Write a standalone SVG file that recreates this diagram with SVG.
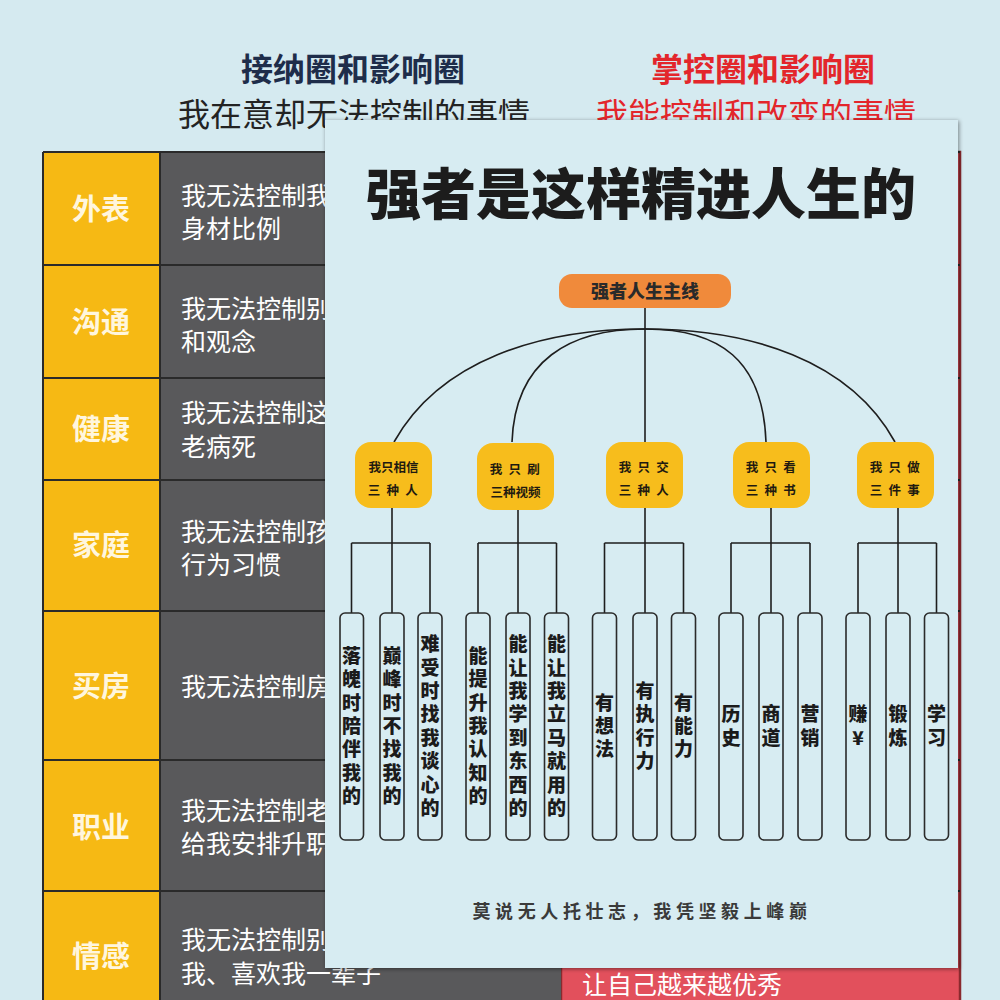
<svg xmlns="http://www.w3.org/2000/svg" width="1000" height="1000" viewBox="0 0 1000 1000">
<defs>
<style>
.cjk{font-family:"Noto Sans CJK SC","Noto Sans",sans-serif}
.hd{font-size:32px;font-weight:bold;text-anchor:middle}
.sub{font-size:32px}
.lab{font-size:29px;font-weight:bold;fill:#fff6de;text-anchor:middle}
.cell{font-size:25px;fill:#ffffff}
.rowline{stroke:#2a2a2a;stroke-width:2}
.con{fill:none;stroke:#1e1e1e;stroke-width:1.6}
.child rect{fill:#f7bd1c}
.ct{font-size:12.5px;font-weight:bold;fill:#1f1a10;text-anchor:middle}
.leaf rect{fill:#d7ecf2;stroke:#2b2b2b;stroke-width:1.6}
.lt{font-size:19px;font-weight:900;fill:#1b1b1b;writing-mode:vertical-rl;text-orientation:upright;text-anchor:middle;letter-spacing:4.4px}
</style>
<filter id="sh" x="-5%" y="-5%" width="110%" height="110%">
<feDropShadow dx="1" dy="1" stdDeviation="2" flood-color="#000" flood-opacity="0.45"/>
</filter>
</defs>
<rect width="1000" height="1000" fill="#d5eaf0"/>

<g id="headers" class="cjk">
<text class="hd" x="353" y="81" fill="#1e2d4a">接纳圈和影响圈</text>
<text class="hd" x="763" y="81" fill="#e3262b">掌控圈和影响圈</text>
<text class="sub" x="178" y="126" fill="#232323">我在意却无法控制的事情</text>
<text class="sub" x="596" y="126" fill="#e3262b">我能控制和改变的事情</text>
</g>

<g id="table" class="cjk">
<rect x="561" y="152" width="399" height="860" fill="#e2505c" stroke="#8a2a2e" stroke-width="2.5"/>
<rect x="160" y="152" width="401" height="860" fill="#59595b"/>
<rect x="43" y="152" width="117" height="860" fill="#f6b914"/>
<line class="rowline" x1="43" y1="152" x2="960" y2="152"/>
<line class="rowline" x1="43" y1="265" x2="960" y2="265"/>
<line class="rowline" x1="43" y1="378" x2="960" y2="378"/>
<line class="rowline" x1="43" y1="480" x2="960" y2="480"/>
<line class="rowline" x1="43" y1="611" x2="960" y2="611"/>
<line class="rowline" x1="43" y1="760" x2="960" y2="760"/>
<line class="rowline" x1="43" y1="891" x2="960" y2="891"/>
<line class="rowline" x1="43" y1="152" x2="43" y2="1000"/>
<line class="rowline" x1="160" y1="152" x2="160" y2="1000"/>
<text class="lab" x="101" y="220">外表</text>
<text class="lab" x="101" y="333">沟通</text>
<text class="lab" x="101" y="440">健康</text>
<text class="lab" x="101" y="556">家庭</text>
<text class="lab" x="101" y="697">买房</text>
<text class="lab" x="101" y="838">职业</text>
<text class="lab" x="101" y="967">情感</text>
<text class="cell" x="181" y="205">我无法控制我</text>
<text class="cell" x="181" y="238">身材比例</text>
<text class="cell" x="181" y="318">我无法控制别</text>
<text class="cell" x="181" y="351">和观念</text>
<text class="cell" x="181" y="422">我无法控制这</text>
<text class="cell" x="181" y="456">老病死</text>
<text class="cell" x="181" y="541">我无法控制孩</text>
<text class="cell" x="181" y="574">行为习惯</text>
<text class="cell" x="181" y="696">我无法控制房</text>
<text class="cell" x="181" y="820">我无法控制老</text>
<text class="cell" x="181" y="853">给我安排升职</text>
<text class="cell" x="181" y="949">我无法控制别</text>
<text class="cell" x="181" y="983">我、喜欢我一辈子</text>
<text class="cell" x="582" y="994">让自己越来越优秀</text>
</g>

<rect id="card" x="325" y="120" width="633" height="848" fill="#d7ecf2" filter="url(#sh)"/>

<g id="title" class="cjk">
<text x="641" y="214" font-size="55" font-weight="900" fill="#1c1c1c" text-anchor="middle">强者是这样精进人生的</text>
</g>

<g id="connectors">
<path class="con" d="M645,308 V442"/>
<path class="con" d="M645,329 C540,329 440,360 394,442"/>
<path class="con" d="M645,329 C570,329 515,360 512,442"/>
<path class="con" d="M645,329 C720,329 763,360 766,442"/>
<path class="con" d="M645,329 C750,329 850,360 895,442"/>
<path class="con" d="M392,508 V543 M351.5,543 H430 M351.5,543 V613 M392,543 V613 M430,543 V613"/>
<path class="con" d="M518,510 V543 M478,543 H556.5 M478,543 V613 M518,543 V613 M556.5,543 V613"/>
<path class="con" d="M645,508 V543 M604.5,543 H683.5 M604.5,543 V613 M645,543 V613 M683.5,543 V613"/>
<path class="con" d="M771,508 V543 M731,543 H810 M731,543 V613 M771,543 V613 M810,543 V613"/>
<path class="con" d="M898,508 V543 M858,543 H936.5 M858,543 V613 M898,543 V613 M936.5,543 V613"/>
</g>

<g id="root" class="cjk">
<rect x="559" y="274" width="172" height="34" rx="13" fill="#f08a3b"/>
<text x="645" y="298" font-size="18" font-weight="900" fill="#2a2a2a" text-anchor="middle">强者人生主线</text>
</g>

<g id="child1" class="child cjk"><rect x="355" y="442" width="77" height="66" rx="16"/>
<text class="ct" x="393.5" y="472">我只相信</text><text class="ct" x="393.5" y="495" letter-spacing="1.7">三 种 人</text></g>
<g id="child2" class="child cjk"><rect x="477" y="443" width="77" height="67" rx="16"/>
<text class="ct" x="515.5" y="474" letter-spacing="1.7">我 只 刷</text><text class="ct" x="515.5" y="497">三种视频</text></g>
<g id="child3" class="child cjk"><rect x="606" y="442" width="77" height="66" rx="16"/>
<text class="ct" x="644.5" y="472" letter-spacing="1.7">我 只 交</text><text class="ct" x="644.5" y="495" letter-spacing="1.7">三 种 人</text></g>
<g id="child4" class="child cjk"><rect x="733" y="442" width="77" height="66" rx="16"/>
<text class="ct" x="771.5" y="472" letter-spacing="1.7">我 只 看</text><text class="ct" x="771.5" y="495" letter-spacing="1.7">三 种 书</text></g>
<g id="child5" class="child cjk"><rect x="857" y="442" width="77" height="66" rx="16"/>
<text class="ct" x="895.5" y="472" letter-spacing="1.7">我 只 做</text><text class="ct" x="895.5" y="495" letter-spacing="1.7">三 件 事</text></g>

<g id="leaf1" class="leaf cjk"><rect x="340" y="613" width="23.5" height="227" rx="5"/><text class="lt" x="351.5" y="728">落魄时陪伴我的</text></g>
<g id="leaf2" class="leaf cjk"><rect x="380" y="613" width="24" height="227" rx="5"/><text class="lt" x="392" y="728">巅峰时不找我的</text></g>
<g id="leaf3" class="leaf cjk"><rect x="418" y="613" width="24" height="227" rx="5"/><text class="lt" x="430" y="728">难受时找我谈心的</text></g>
<g id="leaf4" class="leaf cjk"><rect x="466" y="613" width="24" height="227" rx="5"/><text class="lt" x="478" y="728">能提升我认知的</text></g>
<g id="leaf5" class="leaf cjk"><rect x="506" y="613" width="24" height="227" rx="5"/><text class="lt" x="518" y="728">能让我学到东西的</text></g>
<g id="leaf6" class="leaf cjk"><rect x="544.5" y="613" width="24" height="227" rx="5"/><text class="lt" x="556.5" y="728">能让我立马就用的</text></g>
<g id="leaf7" class="leaf cjk"><rect x="592.5" y="613" width="24" height="227" rx="5"/><text class="lt" x="604.5" y="728">有想法</text></g>
<g id="leaf8" class="leaf cjk"><rect x="633" y="613" width="24" height="227" rx="5"/><text class="lt" x="645" y="728">有执行力</text></g>
<g id="leaf9" class="leaf cjk"><rect x="671.5" y="613" width="24" height="227" rx="5"/><text class="lt" x="683.5" y="728">有能力</text></g>
<g id="leaf10" class="leaf cjk"><rect x="719" y="613" width="24" height="227" rx="5"/><text class="lt" x="731" y="728">历史</text></g>
<g id="leaf11" class="leaf cjk"><rect x="759" y="613" width="24" height="227" rx="5"/><text class="lt" x="771" y="728">商道</text></g>
<g id="leaf12" class="leaf cjk"><rect x="798" y="613" width="24" height="227" rx="5"/><text class="lt" x="810" y="728">营销</text></g>
<g id="leaf13" class="leaf cjk"><rect x="846" y="613" width="24" height="227" rx="5"/><text class="lt" x="858" y="728">赚¥</text></g>
<g id="leaf14" class="leaf cjk"><rect x="886" y="613" width="24" height="227" rx="5"/><text class="lt" x="898" y="728">锻炼</text></g>
<g id="leaf15" class="leaf cjk"><rect x="924.5" y="613" width="24" height="227" rx="5"/><text class="lt" x="936.5" y="728">学习</text></g>

<g id="footer" class="cjk">
<text x="642" y="918" font-size="18" font-weight="bold" fill="#3a3a3a" text-anchor="middle" letter-spacing="4.6">莫说无人托壮志，我凭坚毅上峰巅</text>
</g>
</svg>
